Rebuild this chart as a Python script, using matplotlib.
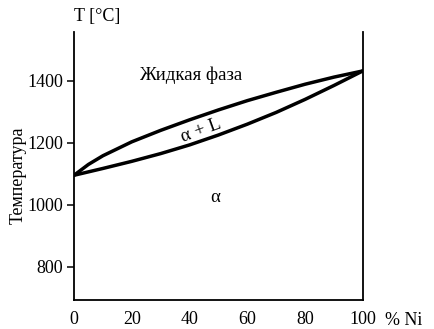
import matplotlib
matplotlib.use("Agg")
import matplotlib.pyplot as plt

# Cu-Ni phase diagram
ni_pct = [0, 5, 10, 20, 30, 40, 50, 60, 70, 80, 90, 100]
liquidus = [1095, 1130, 1158, 1203, 1240, 1274, 1306, 1336, 1363, 1389, 1412, 1432]
solidus = [1095, 1106, 1117, 1140, 1165, 1193, 1225, 1260, 1298, 1340, 1385, 1432]

x_ticks = [0, 20, 40, 60, 80, 100]
y_ticks = [800, 1000, 1200, 1400]

plt.rcParams["font.family"] = ["Liberation Serif", "DejaVu Serif"]

fig = plt.figure(figsize=(4.34, 3.29), dpi=100)
ax = fig.add_axes([0.1705, 0.088, 0.6655, 0.815])

ax.plot(ni_pct, liquidus, color="black", lw=2.5, solid_capstyle="round")
ax.plot(ni_pct, solidus, color="black", lw=2.5, solid_capstyle="round")

ax.set_xlim(0, 100)
ax.set_ylim(692, 1558)
ax.set_xticks(x_ticks)
ax.set_yticks(y_ticks)
ax.tick_params(axis="x", length=0, pad=8, labelsize=13)
ax.tick_params(axis="y", length=5, width=1.1, direction="out", pad=3, labelsize=13)

ax.spines["top"].set_visible(False)
for side in ("left", "right", "bottom"):
    ax.spines[side].set_linewidth(1.3)

ax.text(0, 1.056, "T [°C]", transform=ax.transAxes, ha="left", va="center", fontsize=13)
ax.text(114, -0.075, "% Ni", transform=ax.get_xaxis_transform(),
        ha="center", va="center", fontsize=13)
ax.text(-0.194, 0.466, "Температура", transform=ax.transAxes, rotation=90,
        ha="center", va="center", fontsize=13)

ax.text(40.5, 1419, "Жидкая фаза", ha="center", va="center", fontsize=13.5)
ax.text(44, 1238, "α + L", ha="center", va="center", fontsize=13.5, rotation=20)
ax.text(48.8, 1022, "α", ha="center", va="center", fontsize=13.5)

fig.savefig("out.png", dpi=100)
